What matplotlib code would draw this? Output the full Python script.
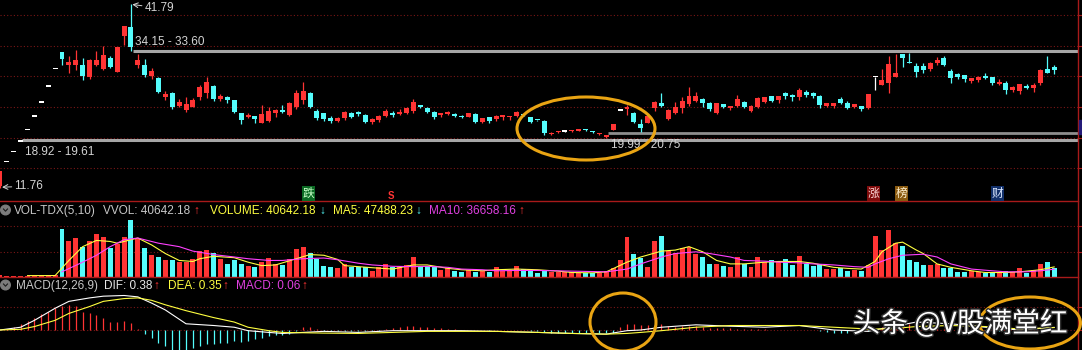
import matplotlib
matplotlib.use("Agg")
import matplotlib.pyplot as plt
import matplotlib.patheffects as pe
from matplotlib.patches import Ellipse, Rectangle, Circle
import numpy as np

# ---------------------------------------------------------------------------
# Data (daily bars, oldest first)
# ---------------------------------------------------------------------------

opens = [
    12.10, 15.97, 17.57, 19.33, 21.26, 23.39, 25.73, 28.30, 31.13, 33.94,
    31.86, 31.86, 31.86, 29.85, 31.86, 31.16, 32.96, 30.77, 36.60, 38.13,
    31.86, 31.86, 30.07, 29.69, 26.58, 27.24, 25.17, 24.51, 25.05, 26.58,
    27.24, 28.43, 26.36, 26.58, 26.14, 24.07, 23.32, 23.53, 22.44, 22.72,
    23.97, 24.51, 23.69, 25.05, 26.14, 27.34, 24.40, 23.97, 23.15, 22.77,
    23.15, 24.07, 24.24, 23.69, 22.60, 22.88, 23.53, 24.07, 23.86, 24.07,
    24.40, 25.33, 24.80, 24.24, 23.69, 23.86, 23.86, 23.53, 23.42, 23.86,
    22.60, 23.32, 23.00, 23.40, 23.30, 23.53, 23.75, 23.32, 22.90, 22.77,
    20.60, 20.85, 20.96, 21.00, 21.15, 21.30, 20.95, 20.60, 20.15, 21.24,
    24.42, 24.62, 23.97, 22.22, 22.43, 24.83, 25.70, 22.99, 24.07, 24.88,
    25.49, 26.03, 26.26, 25.70, 24.07, 25.44, 24.80, 25.17, 25.87, 24.40,
    25.05, 25.87, 26.80, 26.14, 27.24, 26.96, 26.58, 27.50, 27.34, 26.80,
    25.17, 25.17, 26.26, 25.70, 25.05, 25.17, 24.80, 29.85, 28.60, 28.87,
    29.85, 33.66, 32.35, 31.70, 31.70, 31.16, 32.14, 32.96, 30.93, 30.40,
    30.23, 29.30, 29.40, 30.07, 29.85, 28.70, 28.98, 27.78, 27.67, 28.43,
    28.05, 28.87, 31.16, 31.50]

highs = [
    14.52, 15.97, 17.57, 19.33, 21.26, 23.39, 25.73, 28.30, 31.13, 33.94,
    33.33, 34.31, 33.00, 32.84, 34.15, 34.97, 33.33, 34.85, 38.24, 41.79,
    33.60, 32.80, 31.32, 29.95, 27.67, 27.50, 26.26, 26.58, 26.42, 28.60,
    29.95, 28.60, 27.07, 26.80, 26.14, 24.07, 23.97, 23.53, 25.33, 24.95,
    24.62, 25.33, 25.87, 27.80, 29.14, 27.50, 24.62, 24.07, 23.53, 23.32,
    24.40, 24.24, 24.40, 23.86, 23.15, 23.69, 24.62, 24.40, 24.62, 24.95,
    26.26, 25.33, 24.95, 24.40, 24.07, 24.40, 24.07, 23.69, 24.07, 23.97,
    23.15, 23.42, 23.69, 23.60, 23.60, 24.40, 23.90, 23.40, 22.95, 22.88,
    20.90, 21.10, 21.05, 21.20, 21.40, 21.35, 21.00, 20.80, 20.40, 22.30,
    24.42, 25.33, 24.24, 23.04, 23.53, 26.00, 27.23, 24.62, 25.87, 26.58,
    28.22, 27.50, 26.42, 25.87, 25.70, 25.44, 25.20, 26.96, 26.00, 25.33,
    26.70, 26.70, 26.80, 26.80, 27.40, 27.10, 28.10, 27.80, 27.50, 26.96,
    25.70, 25.70, 26.60, 25.90, 25.50, 25.17, 27.14, 29.85, 31.16, 33.30,
    33.66, 33.66, 33.77, 32.24, 32.20, 32.30, 33.10, 33.30, 31.16, 30.60,
    30.23, 29.70, 30.10, 30.60, 29.95, 29.60, 29.30, 28.40, 28.76, 28.76,
    28.98, 31.16, 33.33, 31.86]

lows = [
    11.76, 15.97, 17.57, 19.33, 21.26, 23.39, 25.73, 28.30, 31.13, 31.86,
    30.56, 31.05, 29.41, 29.57, 31.70, 31.05, 31.42, 30.77, 35.13, 34.15,
    31.37, 29.85, 29.53, 27.34, 26.14, 24.62, 25.05, 24.24, 24.95, 26.14,
    26.42, 26.03, 25.98, 25.60, 23.97, 22.23, 23.15, 22.44, 22.34, 22.55,
    23.42, 24.07, 23.53, 24.70, 25.50, 24.80, 22.88, 22.77, 22.44, 22.60,
    22.88, 23.15, 23.53, 22.34, 22.23, 22.60, 23.32, 23.32, 23.69, 23.86,
    24.07, 24.80, 23.97, 22.99, 23.32, 23.69, 23.32, 23.15, 23.32, 22.44,
    22.44, 22.44, 22.77, 22.90, 22.80, 23.32, 23.50, 22.40, 22.70, 20.42,
    20.50, 20.80, 20.90, 20.95, 21.10, 21.15, 20.80, 20.50, 19.99, 21.20,
    24.42, 23.70, 22.34, 20.96, 22.34, 24.40, 25.05, 22.88, 23.86, 24.07,
    25.17, 25.87, 25.05, 24.40, 23.86, 24.90, 24.55, 25.05, 24.80, 24.20,
    24.80, 25.60, 25.87, 25.60, 26.30, 25.90, 26.20, 26.60, 26.50, 24.80,
    25.00, 24.90, 25.50, 24.70, 24.90, 24.40, 24.62, 27.70, 28.60, 27.24,
    29.85, 31.50, 32.14, 29.85, 30.60, 30.90, 31.80, 31.70, 28.87, 29.50,
    29.10, 29.00, 29.10, 29.50, 28.60, 28.60, 27.20, 27.50, 27.10, 27.90,
    27.50, 28.60, 30.60, 30.40]

closes = [
    14.52, 15.97, 17.57, 19.33, 21.26, 23.39, 25.73, 28.30, 31.13, 32.79,
    32.40, 32.68, 30.07, 32.68, 32.68, 33.50, 31.58, 34.85, 38.24, 34.85,
    32.68, 30.23, 30.93, 27.51, 27.07, 25.05, 25.87, 25.49, 26.14, 28.22,
    29.14, 26.26, 26.80, 26.14, 24.24, 22.88, 23.69, 22.99, 23.86, 24.40,
    24.51, 24.24, 25.60, 27.34, 27.67, 25.05, 23.15, 22.99, 22.77, 23.15,
    24.24, 23.42, 23.86, 22.60, 22.99, 23.53, 24.40, 23.69, 24.24, 24.80,
    25.87, 24.95, 24.24, 23.32, 24.07, 24.24, 23.53, 23.32, 23.97, 22.60,
    23.15, 22.77, 23.53, 23.60, 23.60, 24.24, 23.65, 22.60, 22.80, 20.70,
    20.75, 21.00, 20.96, 21.13, 21.30, 21.20, 20.85, 20.70, 20.25, 22.20,
    24.42, 25.05, 22.60, 21.52, 23.53, 25.89, 25.17, 24.51, 25.05, 26.03,
    26.80, 26.80, 25.60, 24.62, 25.60, 25.05, 25.20, 26.26, 25.05, 25.17,
    26.42, 26.58, 26.03, 26.80, 26.80, 26.58, 27.78, 26.96, 26.80, 25.33,
    25.60, 25.70, 25.70, 24.80, 25.50, 24.62, 27.14, 29.85, 29.40, 32.03,
    30.60, 32.96, 32.14, 30.77, 31.05, 32.14, 32.68, 31.86, 29.69, 29.85,
    29.53, 29.70, 29.95, 29.69, 28.87, 29.10, 27.78, 28.20, 28.76, 28.05,
    28.60, 31.05, 30.60, 31.00]

volumes = [
    9750, 6500, 6500, 6500, 6500, 6500, 6500, 6500, 8125, 224250,
    170625, 183625, 143000, 167375, 203125, 188500, 134875, 154375, 188500, 268125,
    178750, 138125, 102375, 94250, 78000, 78000, 69875, 69875, 86125, 121875,
    126750, 115375, 86125, 61750, 78000, 61750, 53625, 45500, 69875, 89375,
    61750, 56875, 82875, 130000, 143000, 115375, 82875, 53625, 45500, 40625,
    61750, 45500, 48750, 45500, 29250, 45500, 61750, 45500, 53625, 56875,
    94250, 50375, 50375, 50375, 34125, 40625, 29250, 24375, 34125, 24375,
    29250, 24375, 45500, 29250, 34125, 50375, 37375, 29250, 21125, 29250,
    24375, 24375, 24375, 24375, 17875, 17875, 17875, 17875, 29250, 40625,
    78000, 188500, 110500, 89375, 48750, 167375, 195000, 121875, 115375, 138125,
    143000, 110500, 94250, 61750, 61750, 53625, 45500, 94250, 61750, 48750,
    94250, 69875, 78000, 69875, 82875, 58500, 99125, 61750, 50375, 61750,
    37375, 37375, 40625, 29250, 34125, 29250, 58500, 191750, 126750, 219375,
    159250, 146250, 78000, 69875, 58500, 58500, 61750, 40625, 40625, 24375,
    24375, 29250, 24375, 21125, 21125, 21125, 29250, 24375, 40625, 21125,
    34125, 61750, 69875, 40642]

# volume moving averages, read at sample bars
ma5_idx = [4, 8, 10, 12, 14, 16, 17, 18, 20, 22, 24, 26, 28, 29, 31, 34, 36,
           38, 40, 43, 45, 47, 49, 50, 52, 54, 57, 60, 62, 65, 67, 70, 72, 75,
           78, 81, 83, 86, 88, 91, 93, 96, 98, 100, 102, 104, 106, 108, 111,
           113, 116, 118, 121, 123, 125, 127, 128, 130, 131, 133, 134, 136,
           138, 141, 143, 146, 148, 151, 153]
ma5_val = [6500, 6800, 78000, 143000, 172250, 167375, 159250, 167375, 183625,
           151125, 110500, 78000, 73125, 86125, 97500, 91000, 69875, 53625,
           56875, 86125, 105625, 102375, 82875, 53625, 48750, 43875, 37375,
           56875, 56875, 40625, 34125, 29250, 34125, 37375, 34125, 27625,
           21125, 19500, 24375, 69875, 94250, 121875, 126750, 143000, 118625,
           78000, 61750, 61750, 69875, 73125, 73125, 65000, 45500, 40625,
           37375, 73125, 118625, 159250, 164125, 126750, 110500, 61750, 45500,
           29250, 21125, 21125, 24375, 34125, 47488]
ma10_idx = [9, 12, 14, 16, 18, 20, 23, 26, 28, 31, 34, 36, 39, 41, 44, 47, 49,
            52, 54, 57, 60, 62, 65, 67, 70, 72, 75, 78, 83, 88, 91, 93, 96, 98,
            101, 103, 106, 108, 111, 113, 116, 118, 121, 124, 126, 127, 129,
            131, 134, 136, 138, 141, 144, 146, 149, 151, 153]
ma10_val = [24375, 69875, 102375, 143000, 175500, 183625, 159250, 143000,
            121875, 105625, 94250, 86125, 78000, 78000, 86125, 89375, 81250,
            65000, 56875, 50375, 48750, 50375, 45500, 37375, 34125, 29250,
            30875, 30875, 27625, 24375, 37375, 61750, 94250, 110500, 118625,
            110500, 94250, 78000, 74750, 69875, 66625, 61750, 56875, 48750,
            45500, 61750, 86125, 102375, 107250, 94250, 61750, 37375, 29250,
            24375, 24375, 29250, 36658]

# MACD(12,26,9)
macd_hist = [
    0.00, 0.10, 0.40, 0.90, 1.30, 1.80, 2.30, 2.65, 3.15, 3.50,
    3.65, 3.50, 2.65, 2.40, 2.15, 1.80, 1.15, 1.15, 1.30, 1.00,
    0.15, -0.60, -1.20, -1.85, -2.35, -2.85, -2.85, -2.85, -2.60, -2.35,
    -2.10, -2.10, -1.85, -1.85, -1.60, -1.75, -1.60, -1.35, -1.20, -0.85,
    -0.70, -0.70, -0.60, -0.20, 0.50, 0.40, 0.10, -0.10, -0.15, -0.20,
    -0.20, -0.15, -0.15, -0.20, -0.20, -0.10, 0.15, 0.30, 0.45, 0.60,
    0.55, 0.50, 0.45, 0.35, 0.30, 0.20, 0.10, 0.05, 0.05, -0.05,
    -0.05, -0.10, -0.05, -0.05, 0.00, 0.05, -0.05, -0.10, -0.20, -0.35,
    -0.45, -0.45, -0.45, -0.45, -0.45, -0.40, -0.40, -0.45, -0.50, -0.40,
    0.40, 0.90, 0.80, 0.70, 0.75, 0.60, 0.80, 0.55, 0.50, 0.60,
    0.65, 0.55, 0.40, 0.30, 0.30, 0.25, 0.25, 0.20, 0.20, 0.15,
    0.15, 0.10, 0.05, 0.05, 0.05, 0.00, 0.05, 0.00, -0.05, -0.15,
    -0.30, -0.40, -0.45, -0.40, -0.30, -0.25, -0.10, 0.20, 0.50, 0.80,
    0.95, 1.00, 0.90, 0.80, 0.60, 0.45, 0.30, 0.15, 0.05, -0.05,
    -0.10, -0.15, -0.15, -0.15, -0.15, -0.10, -0.10, -0.05, -0.05, 0.00,
    0.00, 0.02, 0.04, 0.06]
dif_idx = [0, 3, 5, 8, 10, 13, 15, 18, 20, 22, 24, 27, 31, 34, 36, 39, 41, 44,
           47, 52, 57, 62, 67, 72, 78, 83, 88, 91, 93, 96, 101, 106, 111, 116,
           121, 126, 129, 133, 138, 143, 148, 153]
dif_val = [0.0, 0.4, 1.4, 3.15, 4.15, 4.65, 4.9, 5.0, 4.8, 3.9, 2.9, 0.9, 0.65,
           0.4, -0.1, -0.35, -0.5, -0.35, -0.2, -0.35, -0.1, -0.1, -0.1, -0.2,
           -0.35, -0.5, -0.6, -0.1, 0.0, 0.4, 0.75, 0.55, 0.4, 0.65, 0.0, -0.2,
           0.4, 1.15, 0.9, 0.4, 0.0, 0.38]
dea_idx = [0, 3, 5, 8, 10, 13, 15, 18, 20, 22, 24, 27, 31, 34, 36, 39, 41, 47,
           52, 57, 62, 67, 72, 78, 83, 88, 91, 93, 96, 101, 106, 111, 116, 121,
           126, 129, 133, 138, 143, 148, 153]
dea_val = [0.0, 0.1, 0.5, 1.4, 2.4, 3.4, 4.15, 4.55, 4.65, 4.3, 3.65, 2.8, 1.8,
           1.15, 0.4, -0.1, -0.35, -0.45, -0.5, -0.35, -0.2, -0.2, -0.2, -0.35,
           -0.5, -0.6, -0.5, -0.35, -0.1, 0.4, 0.65, 0.65, 0.65, 0.4, 0.15,
           0.15, 0.5, 0.65, 0.5, 0.15, 0.35]

# ---------------------------------------------------------------------------
# Layout (pixel based, 1082 x 350)
# ---------------------------------------------------------------------------

W, H = 1082, 350
STEP = 6.89          # px between bars
RIGHT = 1078         # right border of the panels
RED = "#FF3434"
CYAN = "#54FCFC"
WHITE = "#FFFFFF"
GRID = "#7A1616"
BORDER = "#A81A1A"
GRAY_LINE = "#A6A6A6"
LABEL = "#D4D4D4"
ORANGE = "#E9A413"
FONT = ["Liberation Sans", "DejaVu Sans"]
CJK = ["Noto Sans CJK SC", "DejaVu Sans"]

fig = plt.figure(figsize=(W / 100, H / 100), dpi=100, facecolor="black")


def px_axes(x0, y0, x1, y1):
    ax = fig.add_axes([x0 / W, 1 - y1 / H, (x1 - x0) / W, (y1 - y0) / H])
    ax.set_facecolor("black")
    ax.set_axis_off()
    ax.set_xlim(0, (x1 - x0) / STEP)
    return ax


o = np.array(opens)
h = np.array(highs)
l = np.array(lows)
c = np.array(closes)
x = np.arange(len(o))
colors = np.where(c > o, RED, np.where(c < o, CYAN, WHITE))
vol_colors = np.where(c >= o, RED, CYAN)

# --- price panel -----------------------------------------------------------
ax_p = px_axes(0, 0, RIGHT, 201)
ax_p.set_ylim(9.64, 42.48)
for lvl in [40, 35, 30, 25, 20, 15]:
    ax_p.axhline(lvl, color=GRID, lw=0.8, ls=(0, (1, 2)))
ax_p.vlines(x, l, h, colors=colors, lw=0.9, zorder=3)
body_lo = np.minimum(o, c)
body_h = np.maximum(np.abs(c - o), 0.22)
ax_p.bar(x, body_h, bottom=body_lo, width=0.72, color=colors, linewidth=0, zorder=3)

xmax = RIGHT / STEP
ax_p.hlines(34.15, 19.3, xmax, color=GRAY_LINE, lw=2.2, zorder=2)
ax_p.hlines(19.61, 3.2, xmax, color=GRAY_LINE, lw=2.2, zorder=2)
ax_p.hlines(20.75, 88.2, xmax, color="#8E8E8E", lw=2.0, zorder=2)

txt = dict(color=LABEL, fontsize=8.5, family=FONT, va="center", ha="left")
ax_p.annotate("41.79", xy=(19.2, 41.75), xytext=(21.0, 41.17),
              arrowprops=dict(arrowstyle="->", color=LABEL, lw=0.7,
                              shrinkA=0, shrinkB=0), **txt)
ax_p.text(19.6, 35.62, "34.15 - 33.60", **txt)
ax_p.text(3.6, 17.65, "18.92 - 19.61", **txt)
ax_p.text(88.7, 18.79, "19.99 - 20.75", **txt)
ax_p.annotate("11.76", xy=(0.3, 11.9), xytext=(2.1, 12.05),
              arrowprops=dict(arrowstyle="->", color=LABEL, lw=0.7,
                              shrinkA=0, shrinkB=0), **txt)

# --- volume panel ----------------------------------------------------------
ax_v = px_axes(0, 201, RIGHT, 277)
ax_v.set_ylim(0, 358000)
for lvl in [120000, 240000]:
    ax_v.axhline(lvl, color=GRID, lw=0.8, ls=(0, (1, 2)))
ax_v.bar(x, volumes, width=0.72, color=vol_colors, linewidth=0, zorder=2)
ax_v.plot(ma5_idx, ma5_val, color="#FFFF40", lw=0.8, zorder=3)
ax_v.plot(ma10_idx, ma10_val, color="#FF40FF", lw=0.8, zorder=3)

# --- MACD panel ------------------------------------------------------------
ax_m = px_axes(0, 277, RIGHT, 350)
ax_m.set_ylim(-2.9, 7.68)
ax_m.axhline(3.4, color=GRID, lw=0.8, ls=(0, (1, 2)))
ax_m.axhline(0, color=GRID, lw=0.8, ls=(0, (1, 2)))
hist = np.array(macd_hist)
ax_m.vlines(x, 0, hist, colors=np.where(hist >= 0, RED, CYAN), lw=0.9, zorder=2)
ax_m.plot(dif_idx, dif_val, color=WHITE, lw=0.8, zorder=3)
ax_m.plot(dea_idx, dea_val, color="#FFFF40", lw=0.8, zorder=3)

# --- overlay in pixel coordinates ------------------------------------------
ov = fig.add_axes([0, 0, 1, 1])
ov.set_xlim(0, W)
ov.set_ylim(H, 0)
ov.set_axis_off()
ov.patch.set_alpha(0)

for yy in (201, 277):
    ov.plot([0, RIGHT], [yy, yy], color=BORDER, lw=1.0)
ov.plot([RIGHT, RIGHT], [0, H], color=BORDER, lw=1.0)
for yy in (15, 45.8, 76.4, 107, 137.6, 168, 226, 251.5, 306.5, 330):
    ov.plot([RIGHT, W], [yy, yy], color=BORDER, lw=0.8)
ov.add_patch(Rectangle((RIGHT + 0.5, 120), 4, 14, color="#241A78", zorder=4))

# event tags at the bottom of the price panel
tags = [("跌", 308.5, "#0C6A24", "#C8FFC8"),
        ("涨", 873.5, "#800C0C", "#FFD8D8"),
        ("榜", 901.5, "#8A5A10", "#FFF0D0"),
        ("财", 997.5, "#12306A", "#DCE8FF")]
for ch, tx, bg, fg in tags:
    ov.text(tx, 193.5, ch, color=fg, fontsize=8.5, family=CJK, ha="center",
            va="center", bbox=dict(boxstyle="square,pad=0.08", fc=bg, ec="none"))
ov.text(390.5, 196, "S", color=RED, fontsize=7, family=FONT, ha="center",
        va="center", fontweight="bold")

# panel headers
for cy in (210, 285):
    ov.add_patch(Circle((5.5, cy), 4.8, color="#7C7C7C", zorder=4))
    ov.plot([3.5, 5.5, 7.5], [cy - 1, cy + 1.2, cy - 1], color="#1A1A1A", lw=0.8, zorder=5)

hdr = dict(fontsize=8.5, family=FONT, va="center", ha="left")
vol_hdr = [(14, "VOL-TDX(5,10)", "#C8C8C8"), (103, "VVOL: 40642.18", "#C8C8C8"),
           (193, "↑", RED), (210, "VOLUME: 40642.18", "#FFFF40"),
           (319, "↓", CYAN), (333, "MA5: 47488.23", "#FFFF40"),
           (415, "↓", CYAN), (429, "MA10: 36658.16", "#E040E0"),
           (518, "↑", RED)]
for tx, s, col in vol_hdr:
    ov.text(tx, 211, s, color=col, **hdr)
macd_hdr = [(16, "MACD(12,26,9)", "#C8C8C8"), (104, "DIF: 0.38", "#E8E8E8"),
            (153, "↑", RED), (168, "DEA: 0.35", "#FFFF40"),
            (222, "↑", RED), (236, "MACD: 0.06", "#E040E0"),
            (301, "↑", RED)]
for tx, s, col in macd_hdr:
    ov.text(tx, 286, s, color=col, **hdr)

# highlight ellipses
for cx, cy, ew, eh in [(586, 128.5, 138, 63), (623, 322, 66, 58), (1030, 323, 101, 52)]:
    ov.add_patch(Ellipse((cx, cy), ew, eh, fill=False, ec=ORANGE, lw=2.2, zorder=6))

# watermark
ov.text(960, 324, "头条 @V股满堂红", color="white", fontsize=20, family=CJK,
        fontweight="medium", ha="center", va="center", zorder=7,
        path_effects=[pe.withStroke(linewidth=2, foreground="#303030")])

fig.savefig("out.png", dpi=100, facecolor="black")
